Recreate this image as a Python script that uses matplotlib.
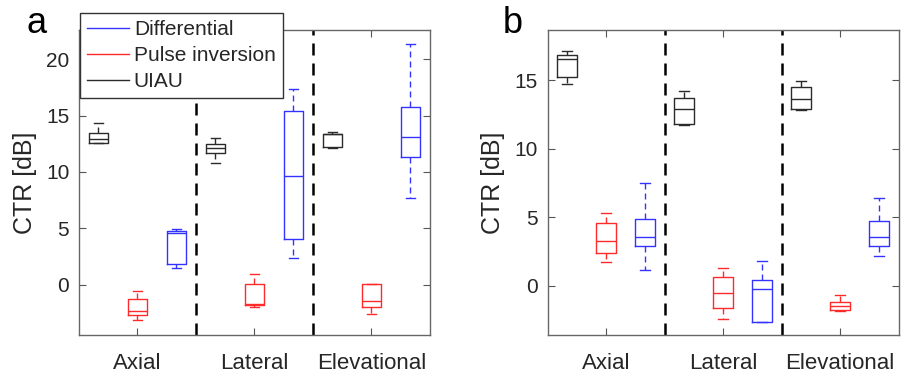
import matplotlib
matplotlib.use("Agg")
import matplotlib.pyplot as plt
from matplotlib.lines import Line2D

plt.rcParams['font.family'] = ['Liberation Sans', 'DejaVu Sans']

categories = ["Axial", "Lateral", "Elevational"]
series_names = ["Differential", "Pulse inversion", "UIAU"]

# five-number summaries: [whislo, q1, median, q3, whishi] per category
a_uiau = [[12.55, 12.55, 12.9, 13.43, 14.38],
          [10.8, 11.65, 12.09, 12.51, 13.04],
          [12.12, 12.2, 13.35, 13.4, 13.57]]
a_pulse = [[-3.14, -2.73, -2.34, -1.3, -0.59],
           [-2.02, -1.85, -1.75, 0.07, 0.95],
           [-2.6, -1.97, -1.45, 0.08, 0.08]]
a_diff = [[1.45, 1.82, 4.55, 4.73, 4.94],
          [2.37, 4.02, 9.62, 15.38, 17.4],
          [7.69, 11.3, 13.1, 15.8, 21.39]]

b_uiau = [[14.73, 15.22, 16.56, 16.87, 17.12],
          [11.71, 11.78, 12.9, 13.71, 14.22],
          [12.83, 12.93, 13.61, 14.54, 14.97]]
b_pulse = [[1.70, 2.41, 3.29, 4.6, 5.28],
           [-2.41, -1.61, -0.56, 0.66, 1.31],
           [-1.82, -1.8, -1.45, -1.18, -0.69]]
b_diff = [[1.17, 2.9, 3.53, 4.87, 7.5],
          [-2.63, -2.63, -0.24, 0.44, 1.78],
          [2.17, 2.92, 3.56, 4.72, 6.38]]

a_yticks = [0, 5, 10, 15, 20]
b_yticks = [0, 5, 10, 15]
a_ylim = (-4.47, 22.6)
b_ylim = (-3.6, 18.67)

colors = {"UIAU": "#2b2b2b", "Pulse inversion": "#ff2a2a", "Differential": "#3333ff"}
offsets = {"UIAU": -1/3, "Pulse inversion": 0.0, "Differential": 1/3}

fig = plt.figure(figsize=(9.03, 3.8), dpi=100)
W = 351/903
H = 305/380
ax_a = fig.add_axes([79/903, 1-335/380, W, H])
ax_b = fig.add_axes([547.7/903, 1-335/380, W, H])


def draw(ax, data, yticks, ylim):
    for name, summ in data.items():
        c = colors[name]
        stats = []
        for s in summ:
            stats.append(dict(whislo=s[0], q1=s[1], med=s[2], q3=s[3], whishi=s[4], fliers=[]))
        pos = [i + 1 + offsets[name] for i in range(len(summ))]
        ax.bxp(stats, positions=pos, widths=0.17, showfliers=False, manage_ticks=False,
               boxprops=dict(color=c, lw=1.0),
               medianprops=dict(color=c, lw=1.0),
               whiskerprops=dict(color=c, lw=1.0, linestyle=(0, (4.3, 2.9))),
               capprops=dict(color=c, lw=1.0))
    for xv in (1.5, 2.5):
        ax.axvline(xv, color='black', lw=1.8, linestyle=(0, (4.8, 3.2)), zorder=1)
    ax.set_xlim(0.5, 3.5)
    ax.set_ylim(*ylim)
    ax.set_xticks([1, 2, 3])
    ax.set_xticklabels(categories, fontsize=16, color='#262626')
    ax.set_yticks(yticks)
    ax.set_yticklabels([str(v) for v in yticks], fontsize=15, color='#262626')
    ax.tick_params(axis='x', direction='in', length=5, pad=13, top=True, color='#555555', width=0.8)
    ax.tick_params(axis='y', direction='in', length=5, pad=7, right=True, color='#555555', width=0.8)
    for sp in ax.spines.values():
        sp.set_color('#666666')
        sp.set_linewidth(1.0)
    ax.set_ylabel("CTR [dB]", fontsize=18, color='#262626')


draw(ax_a, {"UIAU": a_uiau, "Pulse inversion": a_pulse, "Differential": a_diff}, a_yticks, a_ylim)
draw(ax_b, {"UIAU": b_uiau, "Pulse inversion": b_pulse, "Differential": b_diff}, b_yticks, b_ylim)

ax_a.yaxis.set_label_coords(-0.12, 0.5)
ax_b.yaxis.set_label_coords(-0.122, 0.5)

handles = [Line2D([0], [0], color=colors[n], lw=1.0) for n in series_names]
leg = fig.legend(handles, series_names, loc='upper left',
                 bbox_to_anchor=(80/903, 1-13/380), bbox_transform=fig.transFigure,
                 borderaxespad=0, fontsize=15, frameon=True, fancybox=False,
                 framealpha=1, edgecolor='#333333', handlelength=2.0,
                 handletextpad=0.25, labelspacing=0.35, borderpad=0.33)
leg.get_frame().set_linewidth(1.0)
for t in leg.get_texts():
    t.set_color('#262626')

fig.text(27/903, 1-33/380, "a", fontsize=26, ha='left', va='baseline')
fig.text(503/903, 1-33/380, "b", fontsize=26, ha='left', va='baseline')

fig.savefig("out.png", dpi=100)
